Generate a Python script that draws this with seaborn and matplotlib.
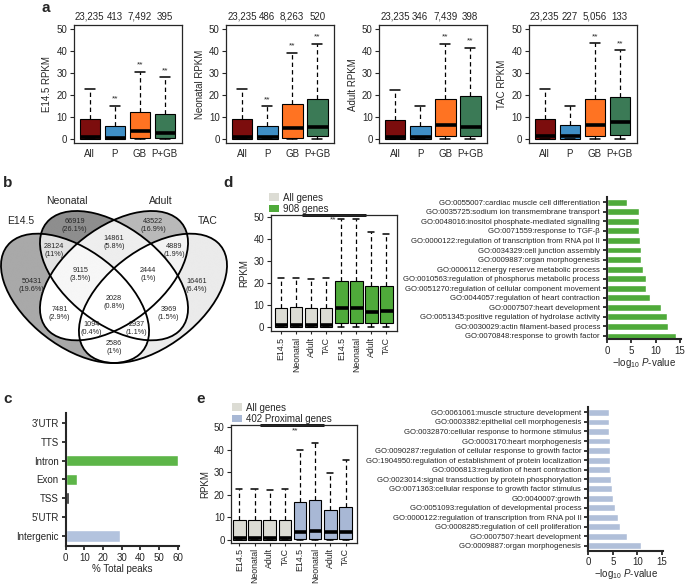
import numpy as np
import pandas as pd
import matplotlib
matplotlib.use("Agg")
import matplotlib.pyplot as plt
import matplotlib.transforms as mtransforms
from matplotlib.patches import Ellipse, Patch
import seaborn as sns

sns.set_style("ticks")
plt.rcParams['font.family'] = ['Liberation Sans', 'DejaVu Sans']
plt.rcParams['font.size'] = 7
plt.rcParams['mathtext.fontset'] = 'custom'
plt.rcParams['mathtext.rm'] = 'Liberation Sans'
plt.rcParams['mathtext.it'] = 'Liberation Sans:italic'

W, H = 685, 585

# ---------------- data ----------------
# panel a: box stats per stage (All, P, GB, P+GB)
a_groups = ['All', 'P', 'GB', 'P+GB']
a_stages = ['E14.5', 'Neonatal', 'Adult', 'TAC']
a_counts = {'E14.5': [23235, 413, 7492, 395],
            'Neonatal': [23235, 486, 8263, 520],
            'Adult': [23235, 346, 7439, 398],
            'TAC': [23235, 227, 5056, 133]}
a_q1 = {'E14.5': [0, 0, 0.3, 0.4], 'Neonatal': [0, 0, 0.4, 1.2],
        'Adult': [0, 0, 1.2, 1.5], 'TAC': [0, 0, 1.2, 2.0]}
a_med = {'E14.5': [0.8, 0.6, 3.6, 2.6], 'Neonatal': [0.9, 0.7, 5.0, 5.5],
         'Adult': [0.9, 0.9, 6.2, 5.4], 'TAC': [1.2, 1.2, 6.5, 7.6]}
a_q3 = {'E14.5': [9.1, 6.1, 12.5, 11.4], 'Neonatal': [9.2, 6.1, 15.9, 18.3],
        'Adult': [8.8, 6.1, 18.2, 19.4], 'TAC': [9.2, 6.2, 18.3, 19.1]}
a_hi = {'E14.5': [22.6, 15.0, 30.7, 28.1], 'Neonatal': [22.7, 14.8, 39.4, 43.3],
        'Adult': [22.2, 15.1, 43.5, 41.7], 'TAC': [22.6, 14.8, 43.6, 40.5]}
a_stars = {'E14.5': [False, True, True, True], 'Neonatal': [False, True, True, True],
           'Adult': [False, False, True, True], 'TAC': [False, False, True, True]}
a_colors = ['#7c0d0d', '#3f8fc6', '#ff7322', '#3b7a56']

# panel b: venn regions (A=E14.5, B=Neonatal, C=Adult, D=TAC)
venn_sets = ['E14.5', 'Neonatal', 'Adult', 'TAC']
venn_regions = ['A', 'B', 'C', 'D', 'AB', 'BC', 'CD', 'ABC', 'BCD', 'AC',
                'ABCD', 'BD', 'ACD', 'ABD', 'AD']
venn_counts = [50431, 66919, 43522, 16461, 28124, 14861, 4889, 9115, 2444,
               7481, 2028, 3969, 1094, 2937, 2586]
venn_pcts = ['19.6%', '26.1%', '16.9%', '6.4%', '11%', '5.8%', '1.9%', '3.5%',
             '1%', '2.9%', '0.8%', '1.5%', '0.4%', '1.1%', '1%']

# panel c
c_cats = ['3\u2019UTR', 'TTS', 'Intron', 'Exon', 'TSS', '5\u2019UTR', 'Intergenic']
c_vals = [0.6, 0.6, 60, 6.2, 2.0, 0.3, 29]
c_cols = ['#2b2b2b', '#2b2b2b', '#5db548', '#5db548', '#2b2b2b', '#2b2b2b', '#b3c3de']

# panel d
box_labels = ['E14.5', 'Neonatal', 'Adult', 'TAC'] * 2
d_q1 = [0, 0, 0, 0, 2.1, 2.0, 1.8, 1.8]
d_med = [0.8, 1.0, 0.8, 0.9, 8.6, 8.6, 7.1, 7.6]
d_q3 = [8.9, 9.0, 8.7, 8.8, 20.8, 20.8, 18.9, 18.7]
d_hi = [22.6, 22.6, 22.0, 22.3, 49.0, 49.0, 43.5, 42.4]

go_d_terms = ["GO:0055007:cardiac muscle cell differentiation",
              "GO:0035725:sodium ion transmembrane transport",
              "GO:0048016:inositol phosphate-mediated signalling",
              "GO:0071559:response to TGF-\u03b2",
              "GO:0000122:regulation of transcription from RNA pol II",
              "GO:0034329:cell junction assembly",
              "GO:0009887:organ morphogenesis",
              "GO:0006112:energy reserve metabolic process",
              "GO:0010563:regulation of phosphorus metabolic process",
              "GO:0051270:regulation of cellular component movement",
              "GO:0044057:regulation of heart contraction",
              "GO:0007507:heart development",
              "GO:0051345:positive regulation of hydrolase activity",
              "GO:0030029:actin filament-based process",
              "GO:0070848:response to growth factor"]
go_d_vals = [4.2, 6.5, 6.6, 6.6, 6.7, 7.0, 7.0, 7.4, 8.0, 8.0, 8.8, 11.1, 12.4, 12.5, 14.2]

# panel e
e_q1 = [0, 0, 0, 0, 0.2, 0.2, 0.2, 0.2]
e_med = [0.8, 0.9, 0.8, 0.8, 3.5, 4.0, 3.2, 3.2]
e_q3 = [8.8, 8.9, 8.6, 8.7, 16.5, 17.7, 13.0, 14.4]
e_hi = [22.6, 22.6, 21.8, 22.3, 39.8, 42.8, 29.5, 35.5]

go_e_terms = ["GO:0061061:muscle structure development",
              "GO:0003382:epithelial cell morphogenesis",
              "GO:0032870:cellular response to hormone stimulus",
              "GO:0003170:heart morphogenesis",
              "GO:0090287:regulation of cellular response to growth factor",
              "GO:1904950:regulation of establishment of protein localization",
              "GO:0006813:regulation of heart contraction",
              "GO:0023014:signal transduction by protein phosphorylation",
              "GO:0071363:cellular response to growth factor stimulus",
              "GO:0040007:growth",
              "GO:0051093:regulation of developmental process",
              "GO:0000122:regulation of transcription from RNA pol II",
              "GO:0008285:regulation of cell proliferation",
              "GO:0007507:heart development",
              "GO:0009887:organ morphogenesis"]
go_e_vals = [4.2, 4.2, 4.2, 4.4, 4.4, 4.4, 4.5, 4.6, 4.9, 5.0, 5.5, 6.1, 6.4, 7.8, 10.8]

gray_box = '#dcdcd4'
green = '#4faa3a'
blue_box = '#a8b8d5'
blue_bar = '#b0bfd9'


def px_axes(fig, x0, y0, x1, y1):
    return fig.add_axes([x0 / W, 1 - y1 / H, (x1 - x0) / W, (y1 - y0) / H])


def draw_boxes(ax, q1, med, q3, hi, colors, labels):
    stats = []
    for i in range(len(q1)):
        stats.append(dict(q1=q1[i], med=med[i], q3=q3[i], whislo=0, whishi=hi[i],
                          label=labels[i]))
    pos = np.arange(1, len(q1) + 1)
    bp = ax.bxp(stats, positions=pos, widths=0.82, capwidths=0.4, patch_artist=True,
                showfliers=False,
                boxprops=dict(linewidth=0.8, edgecolor='black'),
                whiskerprops=dict(linestyle=(0, (3.5, 2.5)), linewidth=0.9),
                capprops=dict(linewidth=1.1),
                medianprops=dict(color='black', linewidth=2.6, solid_capstyle='butt'))
    for patch, c in zip(bp['boxes'], colors):
        patch.set_facecolor(c)
    ax.set_yticks([0, 10, 20, 30, 40, 50])
    for s in ax.spines.values():
        s.set_linewidth(0.9)
    ax.tick_params(axis='y', length=3, width=0.8, pad=1.5, labelsize=7)
    ax.tick_params(axis='x', length=2.5, width=0.8, pad=2, labelsize=7)
    return pos


def panel_letter(x, y, s):
    fig.text(x / W, 1 - y / H, s, fontsize=11, fontweight='bold', va='center', ha='left')


fig = plt.figure(figsize=(6.85, 5.85), dpi=100)

# ---------------- panel a ----------------
a_left = [73.5, 226, 379, 528.5]
for k, stage in enumerate(a_stages):
    ax = px_axes(fig, a_left[k], 25, a_left[k] + 108, 143.3)
    pos = draw_boxes(ax, a_q1[stage], a_med[stage], a_q3[stage], a_hi[stage],
                     a_colors, a_groups)
    ax.tick_params(axis='x', length=0, pad=4)
    ax.set_xlim(0.35, 4.67)
    ax.set_ylim(-2, 52)
    ax.set_ylabel(stage + ' RPKM', fontsize=7, labelpad=3)
    trans = mtransforms.blended_transform_factory(ax.transData, ax.transAxes)
    for i, n in enumerate(a_counts[stage]):
        ax.text(pos[i], 1.07, f"{n:,}", transform=trans, ha='center', va='center', fontsize=7)
        if a_stars[stage][i]:
            ax.text(pos[i], a_hi[stage][i] + 1.5, '**', ha='center', va='bottom', fontsize=6)
panel_letter(41, 8, 'a')

# ---------------- panel b (venn) ----------------
axb = px_axes(fig, 1, 211, 227, 363)
ell = {'A': (0.35, 0.47, -45), 'B': (0.5, 0.57, -45),
       'C': (0.5, 0.57, 45), 'D': (0.65, 0.47, 45)}
sa, sb = 0.35, 0.2
xlim_b, ylim_b = (0.065, 0.935), (0.185, 0.855)
gx, gy = np.meshgrid(np.linspace(*xlim_b, 700), np.linspace(*ylim_b, 500))
inside = {}
for key, (cx, cy, ang) in ell.items():
    t = np.deg2rad(ang)
    dx, dy = gx - cx, gy - cy
    u = dx * np.cos(t) + dy * np.sin(t)
    v = -dx * np.sin(t) + dy * np.cos(t)
    inside[key] = (u / sa) ** 2 + (v / sb) ** 2 <= 1
code = np.full(gx.shape, '', dtype=object)
for key in 'ABCD':
    code = np.where(inside[key], code + key, code)
region_fill = {'A': '#a9a9a9', 'B': '#8e8e8e', 'C': '#b9b9b9', 'D': '#ebebeb',
               'AB': '#e2e2e2', 'BC': '#eeeeee', 'CD': '#f3f3f3', 'ABC': '#f7f7f7'}
img = np.ones(gx.shape + (4,))
img[..., 3] = 0
for key in set(code.ravel()):
    if key == '':
        continue
    rgb = matplotlib.colors.to_rgb(region_fill.get(key, '#ffffff'))
    m = code == key
    img[m, :3] = rgb
    img[m, 3] = 1
axb.imshow(img, extent=(*xlim_b, *ylim_b), origin='lower', aspect='auto',
           interpolation='bilinear')
for key, (cx, cy, ang) in ell.items():
    axb.add_patch(Ellipse((cx, cy), 2 * sa, 2 * sb, angle=ang, fill=False,
                          edgecolor='black', linewidth=1.3, clip_on=False))
for reg, n, p in zip(venn_regions, venn_counts, venn_pcts):
    m = code == reg
    axb.text(gx[m].mean(), gy[m].mean(), f"{n}\n({p})", ha='center', va='center',
             fontsize=5.2, linespacing=1.2)
set_lab_pos = [(0.14, 0.81), (0.32, 0.9), (0.68, 0.9), (0.86, 0.81)]
for name, (x, y) in zip(venn_sets, set_lab_pos):
    axb.text(x, y, name, ha='center', va='center', fontsize=7.5, clip_on=False)
axb.set_xlim(*xlim_b)
axb.set_ylim(*ylim_b)
axb.axis('off')
panel_letter(3, 183, 'b')

# ---------------- panel c ----------------
axc = px_axes(fig, 65.7, 413, 178.6, 545.7)
dfc = pd.DataFrame({'cat': c_cats, 'val': c_vals})
sns.barplot(data=dfc, x='val', y='cat', hue='cat', palette=c_cols, legend=False,
            orient='h', width=0.62, saturation=1, ax=axc)
axc.set_xlim(0, 60.5)
axc.set_ylim(6.53, -0.53)
axc.set_xticks([0, 10, 20, 30, 40, 50, 60])
axc.set_xlabel('% Total peaks', fontsize=7, labelpad=1)
axc.set_ylabel('')
sns.despine(ax=axc)
for s in ['left', 'bottom']:
    axc.spines[s].set_linewidth(1.5)
axc.tick_params(length=3, width=1.3, pad=2, labelsize=7)
panel_letter(3, 399, 'c')

# ---------------- panel d ----------------
axd = px_axes(fig, 270.7, 215, 397, 331)
pos = draw_boxes(axd, d_q1, d_med, d_q3, d_hi, [gray_box] * 4 + [green] * 4, box_labels)
axd.set_xlim(0.3, 8.7)
axd.set_ylim(-1.7, 51)
axd.set_ylabel('RPKM', fontsize=7, labelpad=3)
axd.tick_params(axis='x', labelrotation=90, labelsize=6.3, pad=1.5)
axd.plot([2.39, 6.65], [51, 51], color='black', linewidth=2, clip_on=False,
         solid_capstyle='butt')
axd.text(4.45, 50.2, '**', ha='center', va='top', fontsize=6)
axd.legend(handles=[Patch(facecolor=gray_box, edgecolor='none', label='All genes'),
                    Patch(facecolor=green, edgecolor='none', label='908 genes')],
           loc='lower left', bbox_to_anchor=(-0.02, 1.0), frameon=False, fontsize=7,
           handlelength=1.0, handleheight=0.8, handletextpad=0.4, labelspacing=0.15,
           borderaxespad=0.1, borderpad=0)
panel_letter(223, 183, 'd')

axgd = px_axes(fig, 607, 197, 681, 339.3)
dfgd = pd.DataFrame({'term': go_d_terms, 'val': go_d_vals})
sns.barplot(data=dfgd, x='val', y='term', color=green, orient='h', width=0.72,
            saturation=1, ax=axgd)
axgd.set_xlim(0, 15.2)
axgd.set_ylim(14.35, -0.55)
axgd.set_xticks([0, 5, 10, 15])
axgd.set_xlabel(r'$-$log$_{10}$ $P$-value', fontsize=7, labelpad=0)
axgd.set_ylabel('')
sns.despine(ax=axgd)
for s in ['left', 'bottom']:
    axgd.spines[s].set_linewidth(1.5)
axgd.tick_params(axis='y', length=3, width=1.3, pad=2, labelsize=5.6)
axgd.tick_params(axis='x', length=3, width=1.3, pad=1.5, labelsize=7)

# ---------------- panel e ----------------
axe = px_axes(fig, 231, 425, 357, 542.7)
pos = draw_boxes(axe, e_q1, e_med, e_q3, e_hi, [gray_box] * 4 + [blue_box] * 4, box_labels)
axe.set_xlim(0.45, 8.75)
axe.set_ylim(-1.4, 50.9)
axe.set_ylabel('RPKM', fontsize=7, labelpad=3)
axe.tick_params(axis='x', labelrotation=90, labelsize=6.3, pad=1.5)
axe.plot([2.35, 6.55], [50.9, 50.9], color='black', linewidth=2, clip_on=False,
         solid_capstyle='butt')
axe.text(4.68, 50.0, '**', ha='center', va='top', fontsize=6)
axe.legend(handles=[Patch(facecolor=gray_box, edgecolor='none', label='All genes'),
                    Patch(facecolor=blue_box, edgecolor='none', label='402 Proximal genes')],
           loc='lower left', bbox_to_anchor=(0.0, 1.0), frameon=False, fontsize=7,
           handlelength=1.0, handleheight=0.8, handletextpad=0.4, labelspacing=0.15,
           borderaxespad=0.1, borderpad=0)
panel_letter(196, 399, 'e')

axge = px_axes(fig, 588.3, 406.7, 663, 550.7)
dfge = pd.DataFrame({'term': go_e_terms, 'val': go_e_vals})
sns.barplot(data=dfge, x='val', y='term', color=blue_bar, orient='h', width=0.72,
            saturation=1, ax=axge)
axge.set_xlim(0, 15.2)
axge.set_ylim(14.5, -0.6)
axge.set_xticks([0, 5, 10, 15])
axge.set_xlabel(r'$-$log$_{10}$ $P$-value', fontsize=7, labelpad=0)
axge.set_ylabel('')
sns.despine(ax=axge)
for s in ['left', 'bottom']:
    axge.spines[s].set_linewidth(1.5)
axge.tick_params(axis='y', length=3, width=1.3, pad=2, labelsize=5.6)
axge.tick_params(axis='x', length=3, width=1.3, pad=1.5, labelsize=7)

fig.savefig('out.png', dpi=100)
